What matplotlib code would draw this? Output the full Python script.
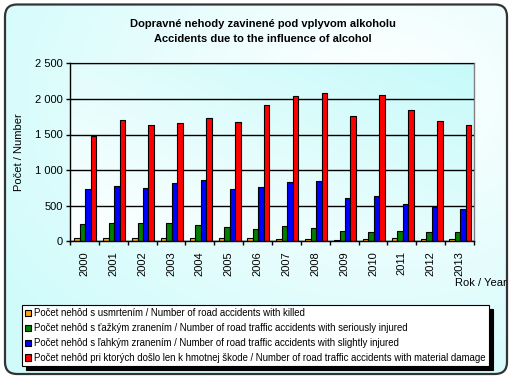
import numpy as np
import matplotlib
matplotlib.use("Agg")
import matplotlib.pyplot as plt
from matplotlib.patches import FancyBboxPatch, Patch

years = ["2000", "2001", "2002", "2003", "2004", "2005", "2006",
         "2007", "2008", "2009", "2010", "2011", "2012", "2013"]
killed = [46, 46, 46, 46, 46, 46, 46, 28, 28, 16, 32, 50, 32, 35]
serious = [243, 257, 257, 257, 229, 201, 169, 211, 183, 140, 126, 140, 126, 126]
slight = [734, 776, 748, 818, 861, 734, 762, 828, 845, 605, 634, 521, 480, 460]
damage = [1478, 1700, 1633, 1661, 1727, 1675, 1914, 2040, 2082, 1759, 2054, 1843, 1689, 1633]

labels = [
    "Počet nehôd s usmrtením / Number of road accidents with killed",
    "Počet nehôd s ťažkým zranením / Number of road traffic accidents with seriously injured",
    "Počet nehôd s ľahkým zranením / Number of road traffic accidents with slightly injured",
    "Počet nehôd pri ktorých došlo len k hmotnej škode / Number of road traffic accidents with material damage",
]
colors = ["#FFA500", "#008000", "#0000FF", "#FF0000"]
series = [killed, serious, slight, damage]

plt.rcParams['font.family'] = ['Liberation Sans', 'DejaVu Sans']

W, H = 515, 382
fig = plt.figure(figsize=(W / 100, H / 100), dpi=100)
fig.patch.set_facecolor('white')

# figure background: rounded frame filled with a soft cyan gradient
bg = fig.add_axes([0, 0, 1, 1], zorder=-10)
bg.set_xlim(0, W)
bg.set_ylim(0, H)
bg.axis('off')
fx0, fy0, fw, fh = 5, 8, 502, 369.5
GX, GY = np.meshgrid(np.linspace(0, 1, 300), np.linspace(0, 1, 300))
d = np.sqrt(((GX - 0.75) / 0.9) ** 2 + ((GY - 0.75) / 0.9) ** 2)
t = np.clip(d, 0, 1)
c_white = np.array([1.0, 1.0, 1.0])
c_cyan = np.array([0.82, 0.985, 0.985])
img = c_white[None, None, :] * (1 - t[..., None]) + c_cyan[None, None, :] * t[..., None]
im = bg.imshow(img, extent=[fx0, fx0 + fw, fy0, fy0 + fh], aspect='auto', origin='lower')
frame = FancyBboxPatch((fx0, fy0), fw, fh,
                       boxstyle="round,pad=0,rounding_size=12",
                       facecolor='none', edgecolor='#333333', lw=1.6)
bg.add_patch(frame)
im.set_clip_path(frame)

ax = fig.add_axes([70 / W, 1 - 241.3 / H, 404 / W, (241.3 - 63.3) / H])
PX, PY = np.meshgrid(np.linspace(0, 1, 200), np.linspace(0, 1, 200))
tp = np.clip(((1 - PX) * 0.5 + (1 - PY) * 0.5), 0, 1)
pc1 = np.array([0.78, 0.98, 0.98])
pc2 = np.array([1.0, 1.0, 1.0])
pimg = pc1[None, None, :] * (1 - tp[..., None]) + pc2[None, None, :] * tp[..., None]
ax.imshow(pimg, extent=[-0.5, 13.5, 0, 2500], aspect='auto', origin='lower', zorder=0)

x = np.arange(len(years))
bw = 0.19
offsets = [-0.255, -0.065, 0.125, 0.315]
for vals, col, off, lab in zip(series, colors, offsets, labels):
    ax.bar(x + off, vals, width=bw, color=col, edgecolor='black', linewidth=0.8,
           zorder=3, label=lab)

ax.set_xlim(-0.5, 13.5)
ax.set_ylim(0, 2500)
ax.set_yticks(np.arange(0, 2501, 500))
ax.set_yticklabels([f"{v:,}".replace(",", " ") for v in range(0, 2501, 500)], fontsize=8)
ax.yaxis.grid(True, color='black', lw=1.0, zorder=1)
ax.set_axisbelow(False)
ax.set_xticks(x)
ax.set_xticklabels(years, rotation=90, fontsize=8)
ax.set_xticks(np.arange(-0.5, 14, 1), minor=True)
ax.tick_params(axis='x', which='major', length=0, pad=7)
ax.tick_params(axis='x', which='minor', length=3, width=1, color='black')
ax.tick_params(axis='y', length=3, width=1, pad=2)
for s in ['left', 'bottom']:
    ax.spines[s].set_color('black')
    ax.spines[s].set_linewidth(1)
for s in ['top', 'right']:
    ax.spines[s].set_color('#808080')
    ax.spines[s].set_linewidth(1)
ax.spines['left'].set_zorder(5)
ax.spines['bottom'].set_zorder(5)

ax.set_ylabel("Počet / Number", fontsize=8, labelpad=8)

fig.text(263 / W, 1 - 24 / H, "Dopravné nehody zavinené pod vplyvom alkoholu",
         ha='center', va='center', fontsize=8, fontweight='bold')
fig.text(263 / W, 1 - 39 / H, "Accidents due to the influence of alcohol",
         ha='center', va='center', fontsize=8, fontweight='bold')
fig.text(455 / W, 1 - 283 / H, "Rok / Year", ha='left', va='center', fontsize=8)

handles = [Patch(facecolor=c, edgecolor='black', linewidth=0.8) for c in colors]
leg = fig.legend(handles, labels, loc='upper left',
                 bbox_to_anchor=(22 / W, 1 - 366 / H, (489 - 22) / W, (366 - 305) / H),
                 mode='expand', fontsize=6.95, frameon=True, fancybox=False,
                 shadow={'color': 'black', 'alpha': 1, 'ox': 3, 'oy': -3},
                 handlelength=0.6, handleheight=0.6, handletextpad=0.3,
                 labelspacing=0.5, borderpad=0.35, borderaxespad=0)
leg.get_frame().set_edgecolor('black')
leg.get_frame().set_linewidth(0.8)
leg.get_frame().set_facecolor('white')

fig.savefig("out.png", dpi=100)
